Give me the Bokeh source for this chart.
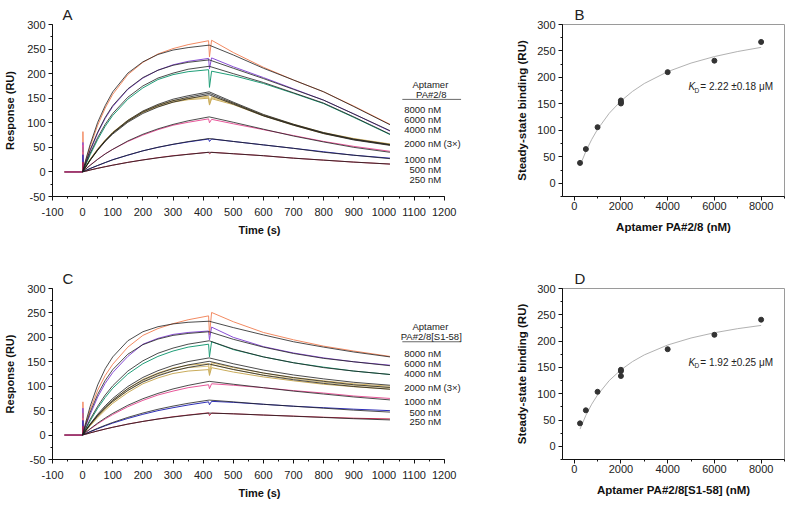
from bokeh.plotting import figure
from bokeh.layouts import column, row
from bokeh.models import Label, Arrow, SingleIntervalTicker
from bokeh.embed import file_html
from bokeh.resources import INLINE

FONT = "Liberation Sans"

# ---------------- data ----------------
conc_labels = ["8000 nM", "6000 nM", "4000 nM", "2000 nM", "1000 nM", "500 nM", "250 nM"]

# sensorgram time points (s)
time_meas = [-60, 0, 1, 3, 10, 25, 50, 75, 100, 150, 200, 250, 300, 350, 418, 421, 428, 500, 600, 700, 800, 900, 1020]
time_fit = [0, 10, 25, 50, 75, 100, 150, 200, 250, 300, 350, 420, 500, 600, 700, 800, 900, 1020]

# Panel A - measured responses (RU)
a_meas_8000 = [0, 0, 82, 8, 22, 52, 95, 130, 158, 198, 223, 240, 251, 259, 267, 234, 268, 243, 213, 187, 163, 134, 97]
a_meas_6000 = [0, 0, 60, 6, 18, 43, 79, 109, 133, 168, 191, 207, 218, 225, 231, 210, 232, 214, 192, 169, 146, 118, 83]
a_meas_4000 = [0, 0, 50, 5, 14, 35, 66, 93, 115, 148, 171, 188, 198, 204, 208, 172, 205, 196, 180, 160, 139, 111, 76]
a_meas_2000_r1 = [0, 0, 40, 3, 11, 26, 47, 65, 81, 105, 123, 136, 145, 150, 154, 140, 153, 140, 116, 97, 80, 68, 57]
a_meas_2000_r2 = [0, 0, 36, 3, 10, 25, 46, 64, 80, 104, 122, 135, 144, 149, 152, 138, 151, 139, 115, 96, 79, 67, 56]
a_meas_2000_r3 = [0, 0, 33, 3, 10, 25, 45, 63, 79, 103, 121, 133, 142, 147, 150, 136, 149, 137, 114, 95, 78, 66, 55]
a_meas_1000 = [0, 0, 55, 2, 6, 14, 26, 37, 46, 62, 75, 86, 95, 101, 108, 100, 107, 98, 86, 74, 62, 52, 42]
a_meas_500 = [0, 0, 35, 1, 3, 7, 13, 19, 25, 34, 43, 50, 56, 61, 67, 62, 67, 62, 55, 48, 41, 34, 28]
a_meas_250 = [0, 0, 20, 1, 1.5, 4, 7.5, 10.7, 13.8, 19.5, 24.5, 29, 33, 36, 40, 37, 40, 37, 33, 28, 24, 20, 16]

# Panel A - 1:1 fits (RU)
a_fit_8000 = [0, 24, 56, 101, 135, 163, 201, 224, 239, 248, 253, 258, 238, 211, 187, 163, 133, 96]
a_fit_6000 = [0, 19, 45, 81, 111, 135, 169, 192, 207, 217, 223, 228, 211, 190, 168, 146, 118, 84]
a_fit_4000 = [0, 16, 38, 70, 97, 119, 152, 175, 191, 201, 209, 215, 200, 182, 161, 140, 112, 77]
a_fit_2000_r1 = [0, 10.3, 24.6, 45.8, 64, 80, 105, 124, 137.5, 148, 155, 163, 142, 117, 97, 80, 67, 56]
a_fit_2000_r2 = [0, 10, 24, 45, 63, 79, 103, 122, 135, 145, 152, 160, 140, 115, 96, 79, 66, 55]
a_fit_2000_r3 = [0, 9.8, 23.5, 44, 62, 77, 101, 119, 132, 142, 149, 157, 138, 114, 95, 78, 65, 54]
a_fit_1000 = [0, 5.6, 13.4, 25.6, 36.5, 46, 63, 76.7, 87.7, 96.7, 104, 112, 101, 87, 73, 61, 50, 40]
a_fit_500 = [0, 2.8, 6.9, 13.2, 19.1, 24.6, 34.4, 42.9, 50.2, 56.3, 61.7, 68, 62, 55, 48, 40, 34, 27]
a_fit_250 = [0, 1.5, 3.8, 7.3, 10.6, 13.7, 19.4, 24.3, 28.7, 32.5, 35.8, 40, 37, 33, 28, 24, 20, 16]

# Panel C - measured responses (RU)
c_meas_8000 = [0, 0, 68, 8, 22, 52, 92, 122, 145, 180, 204, 218, 228, 236, 244, 205, 251, 232, 210, 195, 182, 172, 161]
c_meas_6000 = [0, 0, 55, 6, 18, 42, 78, 106, 128, 161, 186, 198, 206, 210, 213, 195, 221, 200, 181, 168, 158, 150, 143]
c_meas_4000 = [0, 0, 45, 4, 12, 29, 55, 77, 96, 125, 146, 161, 172, 180, 186, 160, 191, 175, 160, 148, 139, 131, 124]
c_meas_2000_r1 = [0, 0, 35, 3, 9, 21, 40, 56, 71, 95, 114, 127, 137, 143, 146, 130, 148, 138, 127, 118, 111, 105, 100]
c_meas_2000_r2 = [0, 0, 32, 3, 9, 20, 38, 54, 68, 91, 110, 123, 132, 138, 141, 126, 144, 134, 123, 115, 108, 102, 97]
c_meas_2000_r3 = [0, 0, 30, 2, 8, 19, 36, 51, 65, 87, 105, 117, 126, 131, 134, 122, 138, 129, 119, 111, 104, 99, 94]
c_meas_1000 = [0, 0, 45, 2, 5, 12, 23, 33, 42, 58, 71, 82, 90, 97, 103, 95, 105, 102, 97, 91, 86, 80, 75]
c_meas_500 = [0, 0, 30, 1, 2.8, 6.8, 13, 19, 24.5, 34, 42.5, 50, 56, 61.5, 68, 62, 69, 67, 63, 59, 56, 53, 50]
c_meas_250 = [0, 0, 18, 1, 1.8, 4.5, 8.5, 12.4, 16, 22.5, 28, 33, 37.5, 41, 45.5, 40, 45, 43.5, 41, 38.8, 36.5, 34.5, 33]

# Panel C - 1:1 fits (RU)
c_fit_8000 = [0, 25.5, 58.8, 102.7, 135.8, 160, 193, 211.5, 221.8, 227.5, 230.8, 233, 220, 205, 191, 180, 170, 160]
c_fit_6000 = [0, 20, 46.7, 83.3, 111.8, 134, 165.5, 185, 196.5, 204, 208, 211.5, 196, 180, 167, 157, 150, 142]
c_fit_4000 = [0, 13.5, 32.2, 59, 82, 101, 131, 152, 167.5, 178, 186, 193, 176, 160, 148, 138, 131, 124]
c_fit_2000_r1 = [0, 9.5, 22.9, 42.7, 60, 75, 99.4, 118, 131.8, 142.5, 150.4, 158, 146, 133, 123, 115, 108, 102]
c_fit_2000_r2 = [0, 9.1, 21.9, 40.8, 57.3, 71.6, 95, 112.7, 125.9, 136, 143.6, 151, 139.5, 127, 117.5, 110, 103, 97.5]
c_fit_2000_r3 = [0, 8.7, 21, 39.3, 55.2, 69, 91.4, 108.6, 121.3, 131.1, 138.4, 145.4, 134.3, 122.4, 113.2, 105.8, 99.4, 93.8]
c_fit_1000 = [0, 5.3, 12.9, 24.5, 35, 44.5, 61, 74.4, 85.3, 94.4, 101.7, 110, 104, 97, 90, 84, 78, 72]
c_fit_500 = [0, 3, 7.2, 13.9, 20.1, 25.9, 36.2, 45.1, 52.8, 59.3, 65, 71.6, 68, 63, 59, 55, 51, 47]
c_fit_250 = [0, 1.8, 4.4, 8.5, 12.3, 15.9, 22.4, 27.9, 32.7, 36.9, 40.6, 45, 43.5, 41, 38.5, 36, 33.5, 31]

# Steady-state binding (panels B, D)
ss_conc = [250, 500, 1000, 2000, 2000, 2000, 4000, 6000, 8000]
b_resp = [38.5, 64.6, 106, 156.5, 153, 150.7, 210, 231.6, 267]
d_resp = [43.7, 68.5, 103.7, 145.5, 143, 133.7, 184.6, 212, 240.7]
fit_conc = [250, 500, 750, 1000, 1500, 2000, 2500, 3000, 4000, 5000, 6000, 7000, 8000]
b_fit = [33.2, 60.3, 82.8, 101.9, 132.3, 155.5, 173.7, 188.5, 210.9, 227.1, 239.4, 249.0, 256.8]
d_fit = [32.8, 58.9, 80.1, 97.6, 125.0, 145.4, 161.2, 173.8, 192.6, 205.9, 215.9, 223.7, 229.8]

# ---------------- styling ----------------
meas_colors = ["#f28a62", "#8a4fd6", "#1f9e78", "#d8b865", "#d9c27e", "#c9ab5a", "#e8579a", "#2e2eb8", "#c3284c"]
FIT_COLOR = "#1e1e1e"


def style_axes(p, xint, yint, label_size, tick_standoff, xlab_standoff, ylab_standoff):
    p.xaxis.ticker = SingleIntervalTicker(interval=xint, num_minor_ticks=2)
    p.yaxis.ticker = SingleIntervalTicker(interval=yint, num_minor_ticks=2)
    p.xgrid.visible = False
    p.ygrid.visible = False
    for ax in list(p.xaxis) + list(p.yaxis):
        ax.axis_line_color = "#111111"
        ax.axis_line_width = 1
        ax.major_tick_in = 0
        ax.major_tick_out = 4
        ax.minor_tick_in = 0
        ax.minor_tick_out = 2
        ax.major_tick_line_color = "#111111"
        ax.minor_tick_line_color = "#111111"
        ax.major_label_text_font = FONT
        ax.major_label_text_font_size = "11px"
        ax.major_label_text_color = "#222222"
        ax.axis_label_text_font = FONT
        ax.axis_label_text_font_style = "bold"
        ax.axis_label_text_font_size = label_size
        ax.axis_label_text_color = "#111111"
    p.xaxis.major_label_standoff = tick_standoff
    p.yaxis.major_label_standoff = 3
    p.xaxis.axis_label_standoff = xlab_standoff
    p.yaxis.axis_label_standoff = ylab_standoff


def letter_title(p, letter, offset):
    p.title.text = letter
    p.title.text_font = FONT
    p.title.text_font_size = "15px"
    p.title.text_font_style = "normal"
    p.title.text_color = "#222222"
    p.title.align = "left"
    p.title.offset = offset
    p.title.standoff = 4


def lbl(p, x, y, text, size="9.5px", align="left", baseline="middle", style="normal", color="#222222"):
    p.add_layout(Label(x=x, y=y, text=text, text_font=FONT, text_font_size=size,
                       text_align=align, text_baseline=baseline, text_font_style=style,
                       text_color=color))


def sensorgram(meas, fits, letter, title2, ypos, top_border, frame_h, bottom_border):
    p = figure(x_range=(-100, 1274), y_range=(-50, 300), frame_width=414, frame_height=frame_h,
               min_border_left=52, min_border_right=12, min_border_top=top_border,
               min_border_bottom=bottom_border, output_backend="svg", toolbar_location=None,
               background_fill_color="white", border_fill_color="white")
    p.outline_line_color = None
    style_axes(p, 100, 50, "11px", 7, 5, 8)
    p.xaxis.bounds = (-100, 1200)
    p.xaxis.major_label_overrides = {-100: "-100"}
    p.yaxis.major_label_overrides = {-50: "-50"}
    p.xaxis.axis_label = "Time (s)"
    p.yaxis.axis_label = "Response (RU)"
    letter_title(p, letter, 10)
    for vals, col in zip(meas, meas_colors):
        p.line(time_meas, vals, line_color=col, line_width=1)
    for vals in fits:
        p.line(time_fit, vals, line_color=FIT_COLOR, line_width=0.8)
    # legend block
    lbl(p, 1154, ypos[0], "Aptamer", align="center")
    lbl(p, 1157, ypos[1], title2, align="center")
    p.add_layout(Arrow(start=None, end=None, x_start=1061, x_end=1256, y_start=ypos[2], y_end=ypos[2],
                       line_color="#444444", line_width=0.8))
    for lab, yy in zip(conc_labels, ypos[3:]):
        lbl(p, 1190, yy, lab, align="right")
    lbl(p, 1198, ypos[6], "(3\u00d7)")
    return p


def binding(resp, fit, letter, xlabel, kd_text, kd_y, top_border, frame_h, bottom_border):
    p = figure(x_range=(-500, 9000), y_range=(-25, 300), frame_width=222, frame_height=frame_h,
               min_border_left=84, min_border_right=2, min_border_top=top_border,
               min_border_bottom=bottom_border, output_backend="svg", toolbar_location=None,
               background_fill_color="white", border_fill_color="white")
    p.outline_line_color = "#9a9a9a"
    p.outline_line_width = 1
    style_axes(p, 2000, 50, "11.5px", 1, 8, 6)
    p.xaxis.axis_label = xlabel
    p.yaxis.axis_label = "Steady-state binding (RU)"
    letter_title(p, letter, 12)
    p.line(fit_conc, fit, line_color="#a8a8a8", line_width=0.9)
    p.scatter(ss_conc, resp, size=5, color="#333333")
    lbl(p, 4890, kd_y, "K", size="10px", style="italic")
    lbl(p, 5150, kd_y - 6, "D", size="6.5px")
    lbl(p, 5400, kd_y, kd_text, size="10px")
    return p


pA = sensorgram([a_meas_8000, a_meas_6000, a_meas_4000, a_meas_2000_r1, a_meas_2000_r2, a_meas_2000_r3,
                 a_meas_1000, a_meas_500, a_meas_250],
                [a_fit_8000, a_fit_6000, a_fit_4000, a_fit_2000_r1, a_fit_2000_r2, a_fit_2000_r3,
                 a_fit_1000, a_fit_500, a_fit_250],
                "A", "PA#2/8", [178.5, 158, 147.6, 127, 106.5, 86, 57, 26, 5.6, -15], 24, 172, 55)
pC = sensorgram([c_meas_8000, c_meas_6000, c_meas_4000, c_meas_2000_r1, c_meas_2000_r2, c_meas_2000_r3,
                 c_meas_1000, c_meas_500, c_meas_250],
                [c_fit_8000, c_fit_6000, c_fit_4000, c_fit_2000_r1, c_fit_2000_r2, c_fit_2000_r3,
                 c_fit_1000, c_fit_500, c_fit_250],
                "C", "PA#2/8[S1-58]", [222, 201.6, 191, 167, 146, 125.6, 97, 68, 46, 27.7], 37, 171, 42)
pB = binding(b_resp, b_fit, "B", "Aptamer PA#2/8 (nM)", "= 2.22 \u00b10.18 \u03bcM", 182, 24, 172, 55)
pD = binding(d_resp, d_fit, "D", "Aptamer PA#2/8[S1-58] (nM)", "= 1.92 \u00b10.25 \u03bcM", 159, 37, 171, 42)

layout = column(row(pA, pB), row(pC, pD))
open("out.html", "w").write(file_html(layout, INLINE))
